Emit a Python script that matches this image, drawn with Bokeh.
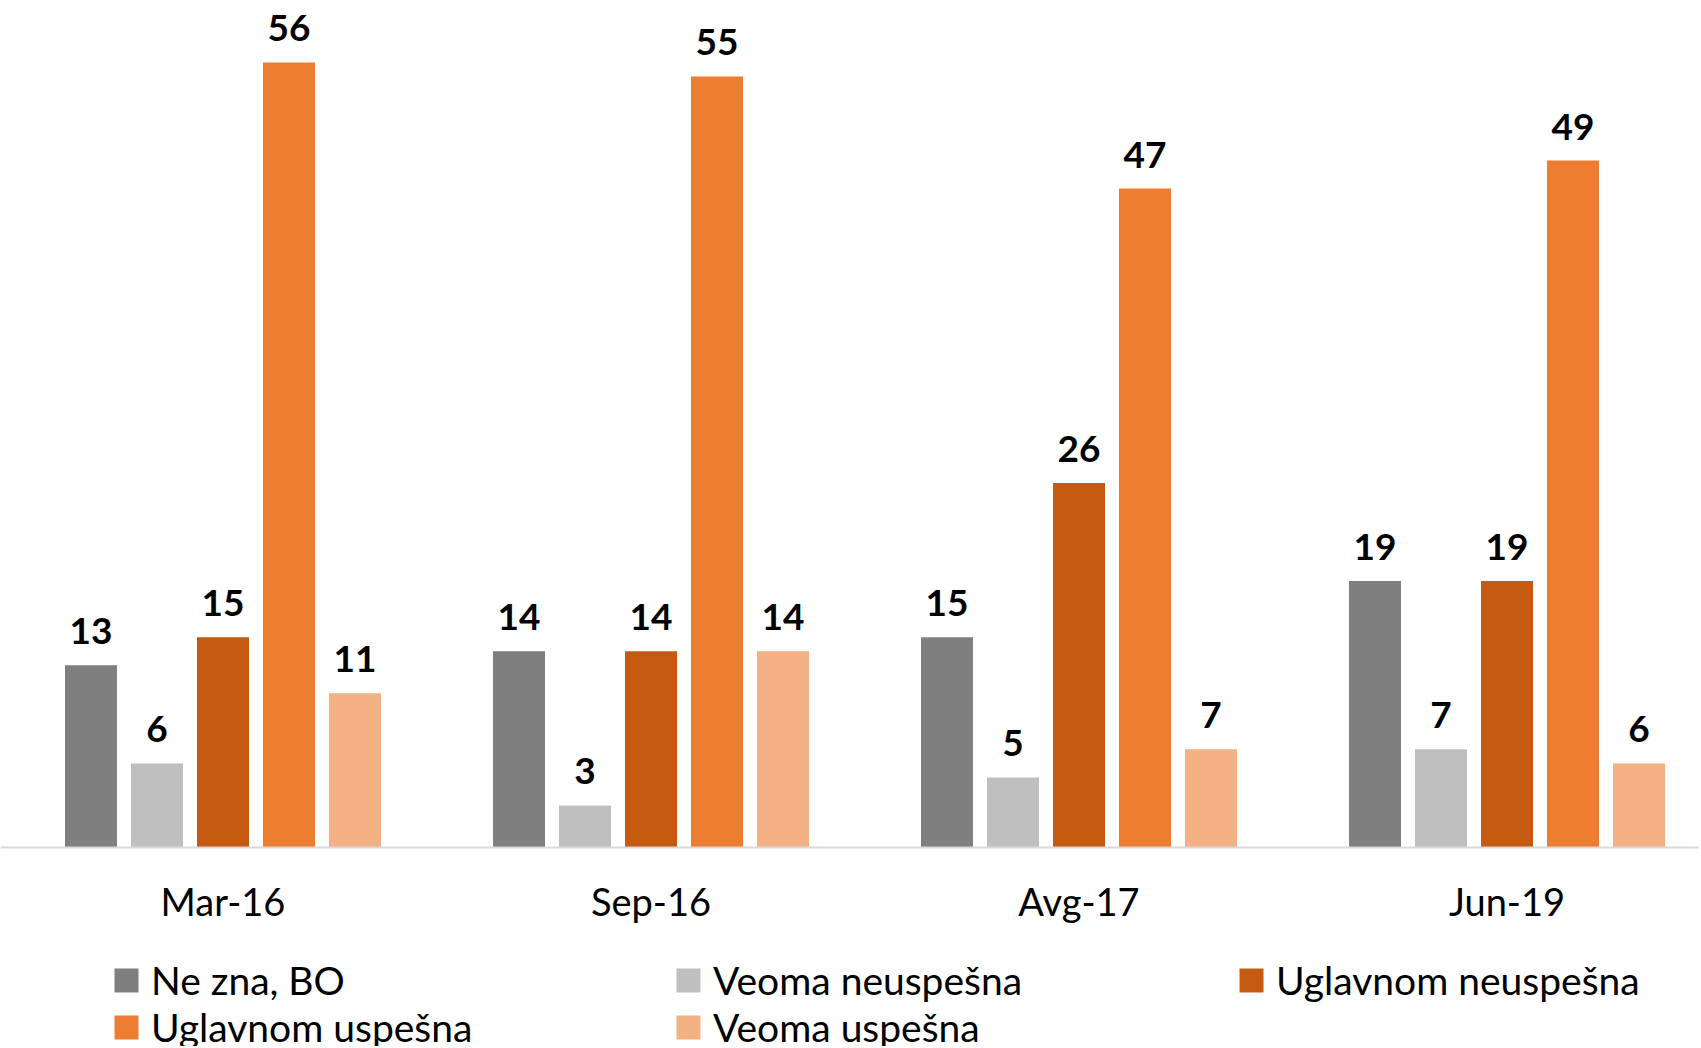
from bokeh.plotting import figure
from bokeh.models import Range1d, Legend, LegendItem, FixedTicker, ColumnDataSource
from bokeh.core.properties import value
from bokeh.embed import file_html
from bokeh.resources import INLINE

# ---- data ----
dates = ["Mar-16", "Sep-16", "Avg-17", "Jun-19"]
series_names = ["Ne zna, BO", "Veoma neuspešna", "Uglavnom neuspešna",
                "Uglavnom uspešna", "Veoma uspešna"]
ne_zna = [13, 14, 15, 19]
veoma_neuspesna = [6, 3, 5, 7]
uglavnom_neuspesna = [15, 14, 26, 19]
uglavnom_uspesna = [56, 55, 47, 49]
veoma_uspesna = [11, 14, 7, 6]
series_values = [ne_zna, veoma_neuspesna, uglavnom_neuspesna, uglavnom_uspesna, veoma_uspesna]
colors = ["#7F7F7F", "#BFBFBF", "#C55A11", "#ED7D31", "#F4B183"]

# ---- layout constants ----
W, H = 1699, 1046
PX_PER_CAT = 428.0
PX_PER_UNIT = 14.02
BASE_Y = 847          # page y of the value axis baseline
X0 = 8.5              # px shift of first category
FONT = "Lato"

y_end = BASE_Y / PX_PER_UNIT
y_start = y_end - H / PX_PER_UNIT

p = figure(width=W, height=H, output_backend="svg", toolbar_location=None,
           x_range=Range1d(-X0 / PX_PER_CAT, (W - X0) / PX_PER_CAT),
           y_range=Range1d(y_start, y_end),
           min_border_left=0, min_border_right=0, min_border_top=0,
           min_border_bottom=0)
p.outline_line_color = None
p.grid.visible = False
p.yaxis.visible = False
p.background_fill_color = "white"
p.border_fill_color = "white"

bar_w = 52 / PX_PER_CAT
step = 66 / PX_PER_CAT

renderers = []
for k, (name, vals, col) in enumerate(zip(series_names, series_values, colors)):
    xs = [i + 0.5 + (k - 2) * step for i in range(len(dates))]
    src = ColumnDataSource(dict(x=xs, top=vals, lbl=[str(v) for v in vals]))
    r = p.vbar(x="x", top="top", width=bar_w, bottom=0, source=src,
               fill_color=col, line_color=None)
    renderers.append(r)
    p.text(x="x", y="top", text="lbl", source=src, text_align="center",
           text_baseline="alphabetic", y_offset=-34,
           text_font=value(FONT), text_font_style="bold",
           text_font_size="37px", text_color="#000000")

ax = p.xaxis[0]
ax.fixed_location = 0
ticks = [i + 0.5 for i in range(len(dates))]
ax.ticker = FixedTicker(ticks=ticks)
ax.major_label_overrides = {t: d for t, d in zip(ticks, dates)}
ax.major_tick_line_color = None
ax.minor_tick_line_color = None
ax.major_tick_out = 0
ax.major_tick_in = 0
ax.axis_line_color = "#D9D9D9"
ax.axis_line_width = 2
ax.major_label_text_font = FONT
ax.major_label_text_font_size = "38px"
ax.major_label_text_color = "#000000"
ax.major_label_standoff = 30

# ---- legends: one per entry, positioned like the reference grid ----
col_x = [111, 673, 1236]
row_c = [980, 1027]   # page y of row centres
ITEM_H = 48
positions = [(0, 0), (1, 0), (2, 0), (0, 1), (1, 1)]
for (ci, ri), name, r in zip(positions, series_names, renderers):
    vy = H - (row_c[ri] + ITEM_H / 2)
    leg = Legend(items=[LegendItem(label=name, renderers=[r])],
                 location=(col_x[ci], vy), padding=0, margin=0, spacing=0,
                 glyph_width=30, glyph_height=30, label_standoff=10,
                 label_height=ITEM_H, label_text_font=FONT,
                 label_text_font_size="39px", label_text_color="#000000",
                 border_line_color=None, background_fill_alpha=0)
    p.add_layout(leg)

open("out.html", "w").write(file_html(p, INLINE))
